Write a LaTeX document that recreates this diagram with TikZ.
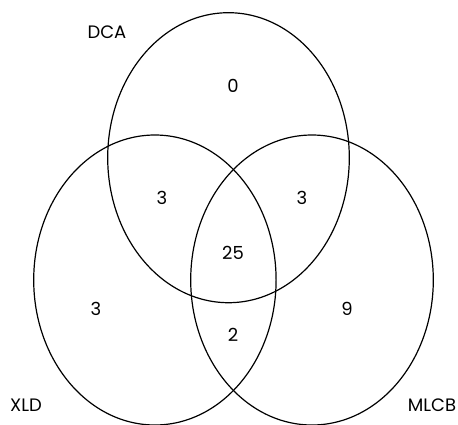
\documentclass[tikz,border=0pt]{standalone}
\usepackage{fontspec}
\setmainfont{Poppins}
\usetikzlibrary{shapes.geometric}
\begin{document}
\begin{tikzpicture}[x=1pt,y=-1pt,
  setring/.style={draw=black, line width=1.2pt, ellipse, inner sep=0pt, minimum height=290pt},
  lbl/.style={font=\fontsize{18}{18}\selectfont, inner sep=0pt, anchor=center}]
\useasboundingbox (0,0) rectangle (458,424);
\begin{scope}
\clip (0,0) rectangle (458,424);
\node[setring, minimum width=241.6pt] (dca) at (228.5,157.7) {};
\node[setring, minimum width=242.4pt] (xld) at (154.9,280) {};
\node[setring, minimum width=242.6pt] (mlcb) at (312,280) {};
\end{scope}
\node[lbl] (tdca) at (107,32) {DCA};
\node[lbl] (txld) at (26,405) {XLD};
\node[lbl] (tmlcb) at (432,405) {MLCB};
\node[lbl] (n0) at (233,86) {0};
\node[lbl] (n3a) at (162,198) {3};
\node[lbl] (n3b) at (302,198) {3};
\node[lbl] (n25) at (233,253) {25};
\node[lbl] (n3c) at (96,309) {3};
\node[lbl] (n9) at (347,309) {9};
\node[lbl] (n2) at (233,335) {2};
\end{tikzpicture}
\end{document}
